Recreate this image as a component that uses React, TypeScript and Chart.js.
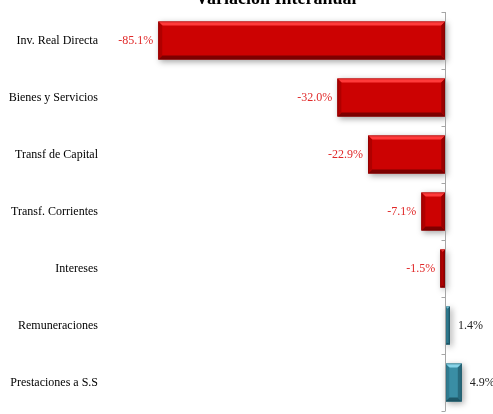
import React, { useEffect, useRef } from "react";
import { Chart, registerables } from "chart.js";

Chart.register(...registerables);

const titleText = "Variación Interanual";
const categories = [
  "Inv. Real Directa",
  "Bienes y Servicios",
  "Transf de Capital",
  "Transf. Corrientes",
  "Intereses",
  "Remuneraciones",
  "Prestaciones a S.S",
];
const values = [-85.1, -32.0, -22.9, -7.1, -1.5, 1.4, 4.9];
const xMin = -100;
const xMax = 10;

const RED = { face: "#CC0202", top: "#FF3A3A", bottom: "#7E0000", left: "#B00000", right: "#9A0000" };
const TEAL = { face: "#3A8EA5", top: "#86D3E8", bottom: "#1E5868", left: "#2F7A8F", right: "#286B7E" };

const serif = "'Liberation Serif', 'Times New Roman', serif";

const decorPlugin = {
  id: "decor",
  beforeDatasetsDraw(chart: any) {
    const ctx = chart.ctx;
    ctx.save();
    ctx.shadowColor = "rgba(0,0,0,0.35)";
    ctx.shadowBlur = 6;
    ctx.shadowOffsetX = 2;
    ctx.shadowOffsetY = 2;
  },
  afterDatasetsDraw(chart: any) {
    const ctx = chart.ctx;
    ctx.restore();
    const meta = chart.getDatasetMeta(0);
    const xs = chart.scales.x;
    meta.data.forEach((el: any, i: number) => {
      const v = values[i];
      const pal = v < 0 ? RED : TEAL;
      const l = Math.min(el.x, el.base);
      const r = Math.max(el.x, el.base);
      const t = el.y - el.height / 2;
      const b = el.y + el.height / 2;
      const w = r - l;
      const bv = Math.min(4, w / 2);
      const poly = (pts: number[][], c: string) => {
        ctx.beginPath();
        ctx.moveTo(pts[0][0], pts[0][1]);
        for (let k = 1; k < pts.length; k++) ctx.lineTo(pts[k][0], pts[k][1]);
        ctx.closePath();
        ctx.fillStyle = c;
        ctx.fill();
      };
      poly([[l, t], [r, t], [r - bv, t + bv], [l + bv, t + bv]], pal.top);
      poly([[l, b], [r, b], [r - bv, b - bv], [l + bv, b - bv]], pal.bottom);
      poly([[l, t], [l + bv, t + bv], [l + bv, b - bv], [l, b]], pal.left);
      poly([[r, t], [r - bv, t + bv], [r - bv, b - bv], [r, b]], pal.right);
      ctx.strokeStyle = v > 0 ? "rgba(20,60,70,0.4)" : "rgba(90,0,0,0.35)";
      ctx.lineWidth = 1;
      ctx.strokeRect(l + 0.5, t + 0.5, w - 1, b - t - 1);
    });
    const x0 = Math.round(xs.getPixelForValue(0)) + 0.5;
    const top = chart.chartArea.top;
    const bottom = chart.chartArea.bottom;
    ctx.strokeStyle = "#A6A6A6";
    ctx.lineWidth = 1;
    ctx.beginPath();
    ctx.moveTo(x0, top);
    ctx.lineTo(x0, bottom);
    const n = categories.length;
    const step = (bottom - top) / n;
    for (let k = 0; k <= n; k++) {
      const yy = Math.round(top + k * step) + 0.5;
      ctx.moveTo(x0 - 4, yy);
      ctx.lineTo(x0, yy);
    }
    ctx.stroke();
    ctx.font = `12px ${serif}`;
    ctx.textBaseline = "middle";
    meta.data.forEach((el: any, i: number) => {
      const v = values[i];
      const txt = v.toFixed(1) + "%";
      if (v < 0) {
        ctx.fillStyle = "#E02828";
        ctx.textAlign = "right";
        ctx.fillText(txt, el.x - 5, el.y);
      } else {
        ctx.fillStyle = "#222222";
        ctx.textAlign = "left";
        ctx.fillText(txt, el.x + 8, el.y);
      }
    });
    ctx.font = `bold 18px ${serif}`;
    ctx.fillStyle = "#000000";
    ctx.textAlign = "center";
    ctx.textBaseline = "alphabetic";
    ctx.fillText(titleText, 276, 4);
  },
};

export default function App() {
  const ref = useRef<HTMLCanvasElement | null>(null);
  useEffect(() => {
    if (!ref.current) return;
    const chart = new Chart(ref.current, {
      type: "bar",
      data: {
        labels: categories,
        datasets: [
          {
            data: values,
            backgroundColor: values.map((v) => (v < 0 ? RED.face : TEAL.face)),
            borderWidth: 0,
            barPercentage: 0.67,
            categoryPercentage: 1,
          },
        ],
      },
      options: {
        indexAxis: "y",
        animation: false,
        responsive: false,
        maintainAspectRatio: false,
        layout: { padding: { left: 0, right: 14, top: 12, bottom: 3 } },
        plugins: {
          legend: { display: false },
          tooltip: { enabled: false },
          title: { display: false },
        },
        scales: {
          x: {
            display: false,
            min: xMin,
            max: xMax,
          },
          y: {
            position: "left",
            grid: { display: false, drawTicks: false },
            border: { display: false },
            ticks: {
              color: "#000000",
              font: { family: serif, size: 12 },
              padding: 10,
              crossAlign: "near",
            },
            afterFit(axis: any) {
              axis.width = 108;
              axis.paddingTop = 0;
              axis.paddingBottom = 0;
            },
          },
        },
      },
      plugins: [decorPlugin],
    });
    return () => chart.destroy();
  }, []);
  return (
    <canvas
      ref={ref}
      width={493}
      height={414}
      style={{ position: "absolute", left: 0, top: 0, width: 493, height: 414 }}
    />
  );
}
